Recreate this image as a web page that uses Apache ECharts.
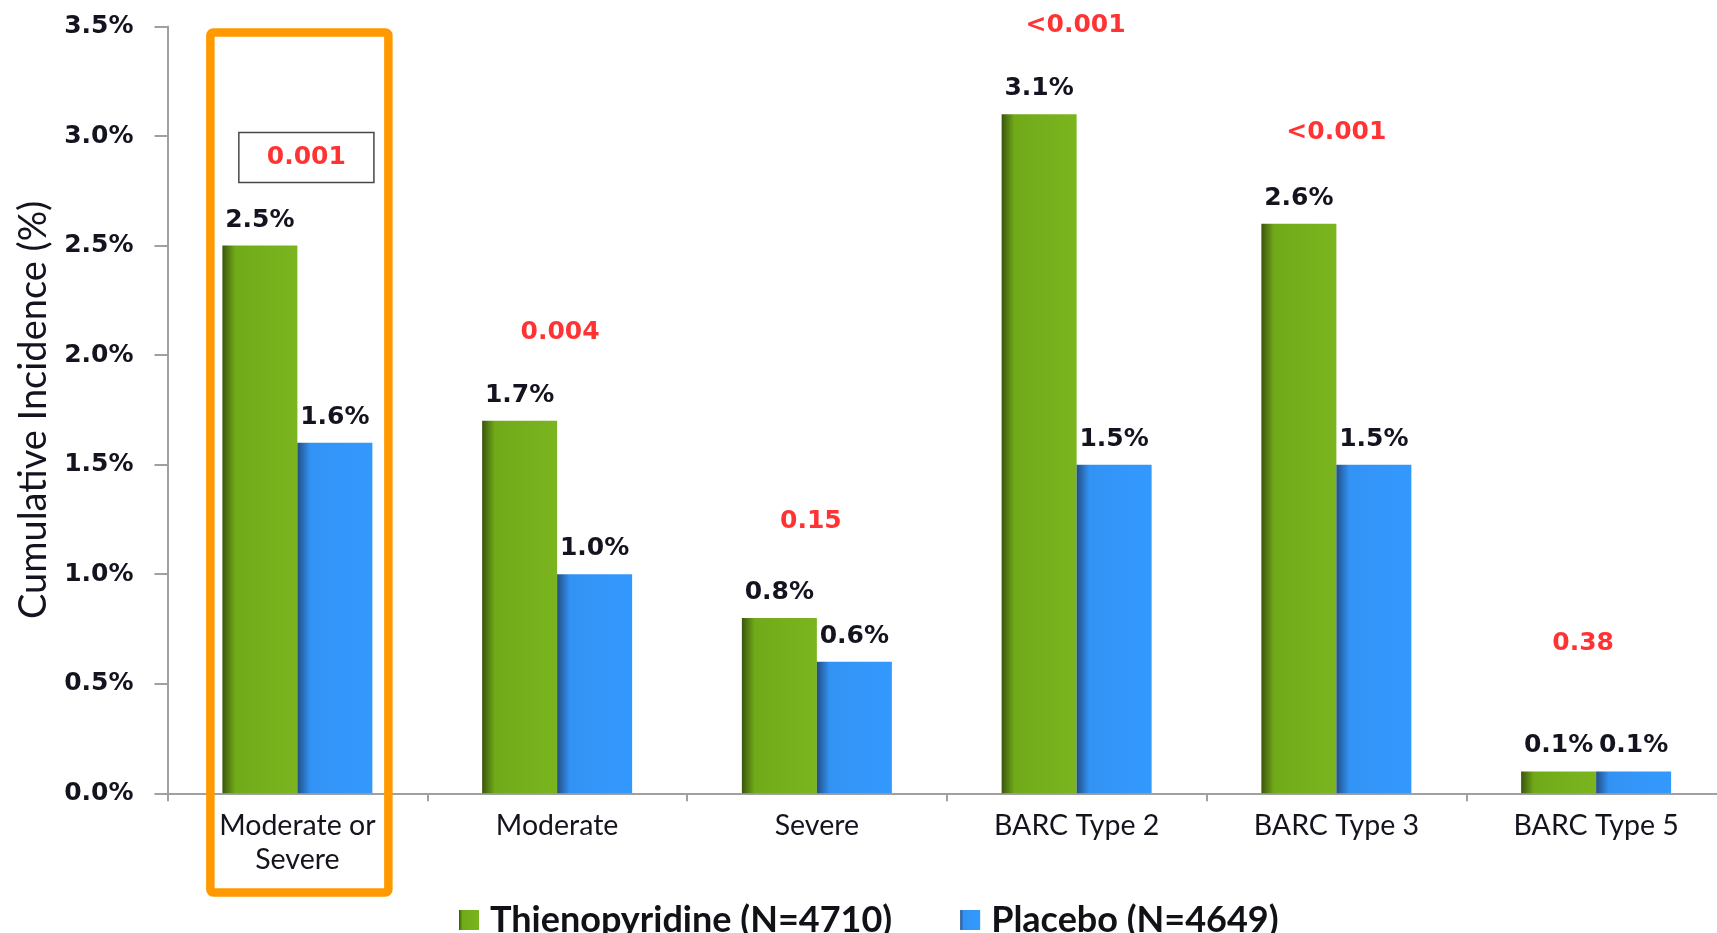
<!DOCTYPE html>
<html>
<head>
<meta charset="utf-8">
<script src="https://cdn.jsdelivr.net/npm/echarts@6.0.0/dist/echarts.min.js"></script>
<style>
  html, body { margin: 0; padding: 0; background: #ffffff; }
  #chart { width: 1717px; height: 933px; }
</style>
</head>
<body>
<div id="chart"></div>
<script>
// Bleeding categories and cumulative incidence (%) per arm
const categories = ['Moderate or\nSevere', 'Moderate', 'Severe', 'BARC Type 2', 'BARC Type 3', 'BARC Type 5'];
const thienopyridine = [2.5, 1.7, 0.8, 3.1, 2.6, 0.1];
const placebo = [1.6, 1.0, 0.6, 1.5, 1.5, 0.1];
const pValues = ['0.001', '0.004', '0.15', '<0.001', '<0.001', '0.38'];
const seriesNames = ['Thienopyridine (N=4710)', 'Placebo (N=4649)'];

// Pixel placement of each p-value relative to the taller bar of its pair
const pLift = [88, 88, 97, 89, 91, 128];
const pShift = [9, 3, -6, -1, 0, -13];

const greenFill = new echarts.graphic.LinearGradient(0, 0, 1, 0, [
  { offset: 0, color: '#3a560c' },
  { offset: 0.17, color: '#71aa19' },
  { offset: 1, color: '#7ab51f' }
]);
const blueFill = new echarts.graphic.LinearGradient(0, 0, 1, 0, [
  { offset: 0, color: '#224f86' },
  { offset: 0.17, color: '#3393f4' },
  { offset: 1, color: '#3399ff' }
]);

const valueFont = {
  fontFamily: 'DejaVu Sans',
  fontWeight: 'bold',
  fontSize: 25,
  color: '#141420'
};

const pData = thienopyridine.map((v, i) => {
  const item = {
    value: Math.max(v, placebo[i]),
    label: {
      formatter: pValues[i],
      offset: [pShift[i], -pLift[i]]
    }
  };
  if (i === 0) {
    item.label.borderColor = '#1a1a1a';
    item.label.borderWidth = 1.5;
    item.label.padding = [12, 28, 12, 28];
  }
  return item;
});

const chart = echarts.init(document.getElementById('chart'), null, { renderer: 'canvas' });

chart.setOption({
  animation: false,
  backgroundColor: '#ffffff',
  grid: {
    left: 167.5, right: -9, top: 26.5, bottom: 139.7,
    containLabel: false,
    outerBoundsMode: 'none'
  },
  legend: {
    data: seriesNames,
    left: 454,
    top: 897,
    itemWidth: 20,
    itemHeight: 20,
    itemGap: 68,
    icon: 'rect',
    textStyle: {
      fontFamily: 'Lato',
      fontWeight: 'bold',
      fontSize: 36,
      lineHeight: 36,
      color: '#111118',
      padding: [0, 0, 0, 6]
    }
  },
  xAxis: {
    type: 'category',
    data: categories,
    boundaryGap: true,
    axisLine: { lineStyle: { color: '#a0a0a0', width: 2 } },
    axisTick: { show: true, alignWithLabel: false, length: 8, lineStyle: { color: '#a0a0a0', width: 2 } },
    axisLabel: {
      interval: 0,
      margin: 16,
      fontFamily: 'Lato',
      fontSize: 28.5,
      lineHeight: 34,
      color: '#14141f'
    },
    splitLine: { show: false }
  },
  yAxis: {
    type: 'value',
    min: 0,
    max: 3.5,
    interval: 0.5,
    name: 'Cumulative Incidence (%)',
    nameLocation: 'middle',
    nameGap: 115,
    nameRotate: 90,
    nameTextStyle: {
      fontFamily: 'Lato',
      fontSize: 38,
      color: '#141420'
    },
    axisLine: { show: true, lineStyle: { color: '#a0a0a0', width: 2 } },
    axisTick: { show: true, inside: false, length: 13, lineStyle: { color: '#a0a0a0', width: 2 } },
    axisLabel: {
      margin: 34,
      formatter: v => v.toFixed(1) + '%',
      fontFamily: 'DejaVu Sans',
      fontWeight: 'bold',
      fontSize: 25,
      color: '#141420'
    },
    splitLine: { show: false }
  },
  series: [
    {
      name: seriesNames[0],
      type: 'bar',
      data: thienopyridine,
      barWidth: 75,
      barGap: '0%',
      itemStyle: { color: greenFill },
      label: Object.assign({ show: true, position: 'top', distance: 13, formatter: p => p.value.toFixed(1) + '%' }, valueFont)
    },
    {
      name: seriesNames[1],
      type: 'bar',
      data: placebo,
      barWidth: 75,
      barGap: '0%',
      itemStyle: { color: blueFill },
      label: Object.assign({ show: true, position: 'top', distance: 13, formatter: p => p.value.toFixed(1) + '%' }, valueFont)
    },
    {
      name: 'p-value',
      type: 'scatter',
      data: pData,
      symbolSize: 1,
      itemStyle: { color: 'rgba(0,0,0,0)' },
      z: 5,
      label: {
        show: true,
        position: 'inside',
        fontFamily: 'DejaVu Sans',
        fontWeight: 'bold',
        fontSize: 25,
        lineHeight: 26,
        color: '#ff0000'
      }
    }
  ]
});

// Orange frame highlighting the first category
const cx = chart.convertToPixel({ xAxisIndex: 0 }, 0);
chart.setOption({
  graphic: [{
    type: 'rect',
    z: 10,
    shape: { x: cx - 87, y: 32.5, width: 178, height: 860, r: 3 },
    style: { fill: 'none', stroke: '#ff9900', lineWidth: 8.5 }
  }]
});
</script>
</body>
</html>
